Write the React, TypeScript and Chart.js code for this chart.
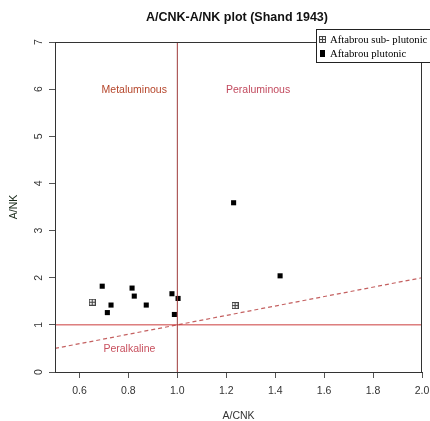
import React, { useEffect, useRef } from "react";
import { Chart, registerables } from "chart.js";

Chart.register(...registerables);

const plutonicX = [0.693, 0.815, 0.824, 0.729, 0.873, 0.714, 0.978, 1.003, 0.988, 1.23, 1.42];
const plutonicY = [1.82, 1.78, 1.61, 1.42, 1.42, 1.26, 1.66, 1.56, 1.22, 3.59, 2.04];
const subX = [0.652, 1.236];
const subY = [1.48, 1.41];
const xTicks = [0.6, 0.8, 1.0, 1.2, 1.4, 1.6, 1.8, 2.0];
const yTicks = [0, 1, 2, 3, 4, 5, 6, 7];
const seriesNames = ["Aftabrou sub- plutonic", "Aftabrou plutonic"];
const regionLabels = ["Metaluminous", "Peraluminous", "Peralkaline"];
const regionX = [0.824, 1.33, 0.804];
const regionY = [5.98, 5.98, 0.49];
const regionColors = ["#b5452a", "#c24a5e", "#c8505e"];

function makeSubSymbol(): HTMLCanvasElement {
  const c = document.createElement("canvas");
  c.width = 7;
  c.height = 7;
  const g = c.getContext("2d")!;
  g.fillStyle = "#eeeeee";
  g.fillRect(0, 0, 7, 7);
  g.strokeStyle = "#444";
  g.lineWidth = 1;
  g.strokeRect(0.5, 0.5, 6, 6);
  g.beginPath();
  g.moveTo(3.5, 0.5);
  g.lineTo(3.5, 6.5);
  g.moveTo(0.5, 3.5);
  g.lineTo(6.5, 3.5);
  g.stroke();
  return c;
}

export default function App() {
  const ref = useRef<HTMLCanvasElement>(null);
  useEffect(() => {
    const sym = makeSubSymbol();
    const overlay = {
      id: "overlay",
      afterDraw(chart: any) {
        const ctx = chart.ctx;
        const a = chart.chartArea;
        const xs = chart.scales.x;
        const ys = chart.scales.y;
        ctx.save();
        ctx.strokeStyle = "#333";
        ctx.lineWidth = 1;
        ctx.strokeRect(a.left + 0.5, a.top + 0.5, a.right - a.left - 1, a.bottom - a.top);
        ctx.fillStyle = "#333";
        ctx.font = "10.5px 'Liberation Sans', Arial";
        ctx.textAlign = "center";
        ctx.textBaseline = "middle";
        yTicks.forEach((v) => {
          const py = ys.getPixelForValue(v);
          ctx.save();
          ctx.translate(39, py);
          ctx.rotate(-Math.PI / 2);
          ctx.fillText(String(v), 0, 0);
          ctx.restore();
        });
        ctx.font = "10.5px 'Liberation Sans', Arial";
        ctx.fillText("A/CNK", (a.left + a.right) / 2, 416);
        ctx.save();
        ctx.translate(14, (a.top + a.bottom) / 2);
        ctx.rotate(-Math.PI / 2);
        ctx.fillStyle = "#1a2a1a";
        ctx.fillText("A/NK", 0, 0);
        ctx.restore();
        ctx.fillStyle = "#111";
        ctx.font = "bold 12.5px 'Liberation Sans', Arial";
        ctx.fillText("A/CNK-A/NK plot (Shand 1943)", 237, 18);
        ctx.font = "10.5px 'Liberation Sans', Arial";
        regionLabels.forEach((t, i) => {
          ctx.fillStyle = regionColors[i];
          ctx.fillText(t, xs.getPixelForValue(regionX[i]), ys.getPixelForValue(regionY[i]));
        });
        ctx.fillStyle = "#fff";
        ctx.fillRect(316, 29, 120, 33);
        ctx.strokeStyle = "#222";
        ctx.strokeRect(316.5, 29.5, 120, 33);
        ctx.drawImage(sym, 319, 36);
        ctx.fillStyle = "#000";
        ctx.fillRect(320, 50, 5, 7);
        ctx.font = "10.7px 'Liberation Serif', 'Times New Roman', serif";
        ctx.textAlign = "left";
        ctx.fillStyle = "#000";
        ctx.fillText(seriesNames[0], 330, 40);
        ctx.fillText(seriesNames[1], 330, 54);
        ctx.restore();
      },
    };
    const chart = new Chart(ref.current!, {
      type: "scatter",
      data: {
        datasets: [
          {
            label: "vline",
            data: [{ x: 1, y: 0 }, { x: 1, y: 7 }],
            showLine: true,
            borderColor: "#9e3a3a",
            borderWidth: 1,
            pointRadius: 0,
          },
          {
            label: "hline",
            data: [{ x: 0.5, y: 1 }, { x: 2, y: 1 }],
            showLine: true,
            borderColor: "#cc3c3c",
            borderWidth: 1,
            pointRadius: 0,
          },
          {
            label: "diag",
            data: [{ x: 0.5, y: 0.5 }, { x: 2, y: 2 }],
            showLine: true,
            borderColor: "#c46060",
            borderWidth: 1.2,
            borderDash: [4, 3],
            pointRadius: 0,
          },
          {
            label: seriesNames[1],
            data: plutonicX.map((x, i) => ({ x, y: plutonicY[i] })),
            pointStyle: "rect",
            pointRadius: 3.6,
            backgroundColor: "#000",
            borderColor: "#000",
            borderWidth: 0,
          },
          {
            label: seriesNames[0],
            data: subX.map((x, i) => ({ x, y: subY[i] })),
            pointStyle: sym as any,
            pointRadius: 4,
          },
        ],
      },
      options: {
        responsive: false,
        animation: false,
        layout: { padding: { top: 42, right: 8, left: 0, bottom: 0 } },
        plugins: { legend: { display: false }, title: { display: false }, tooltip: { enabled: false } },
        scales: {
          x: {
            type: "linear",
            min: 0.5,
            max: 2.0,
            afterBuildTicks: (s: any) => {
              s.ticks = xTicks.map((v) => ({ value: v }));
            },
            afterFit: (s: any) => {
              s.height = 49;
              s.paddingLeft = 0;
              s.paddingRight = 0;
            },
            ticks: {
              font: { size: 10.5, family: "'Liberation Sans', Arial" },
              color: "#333",
              padding: 7,
              maxRotation: 0,
              autoSkip: false,
              callback: (v: any) => Number(v).toFixed(1),
            },
            grid: { drawOnChartArea: false, drawTicks: true, tickLength: 6, color: "#555" },
            border: { display: true, color: "#333" },
          },
          y: {
            type: "linear",
            min: 0,
            max: 7,
            afterBuildTicks: (s: any) => {
              s.ticks = yTicks.map((v) => ({ value: v }));
            },
            afterFit: (s: any) => {
              s.width = 55;
              s.paddingTop = 0;
              s.paddingBottom = 0;
            },
            ticks: { display: false },
            grid: { drawOnChartArea: false, drawTicks: true, tickLength: 6, color: "#555" },
            border: { display: true, color: "#333" },
          },
        },
      },
      plugins: [overlay],
    });
    return () => chart.destroy();
  }, []);
  return (
    <div style={{ position: "absolute", left: 0, top: 0, width: 430, height: 421, background: "#fff" }}>
      <canvas ref={ref} width={430} height={421} style={{ width: 430, height: 421 }} />
    </div>
  );
}
